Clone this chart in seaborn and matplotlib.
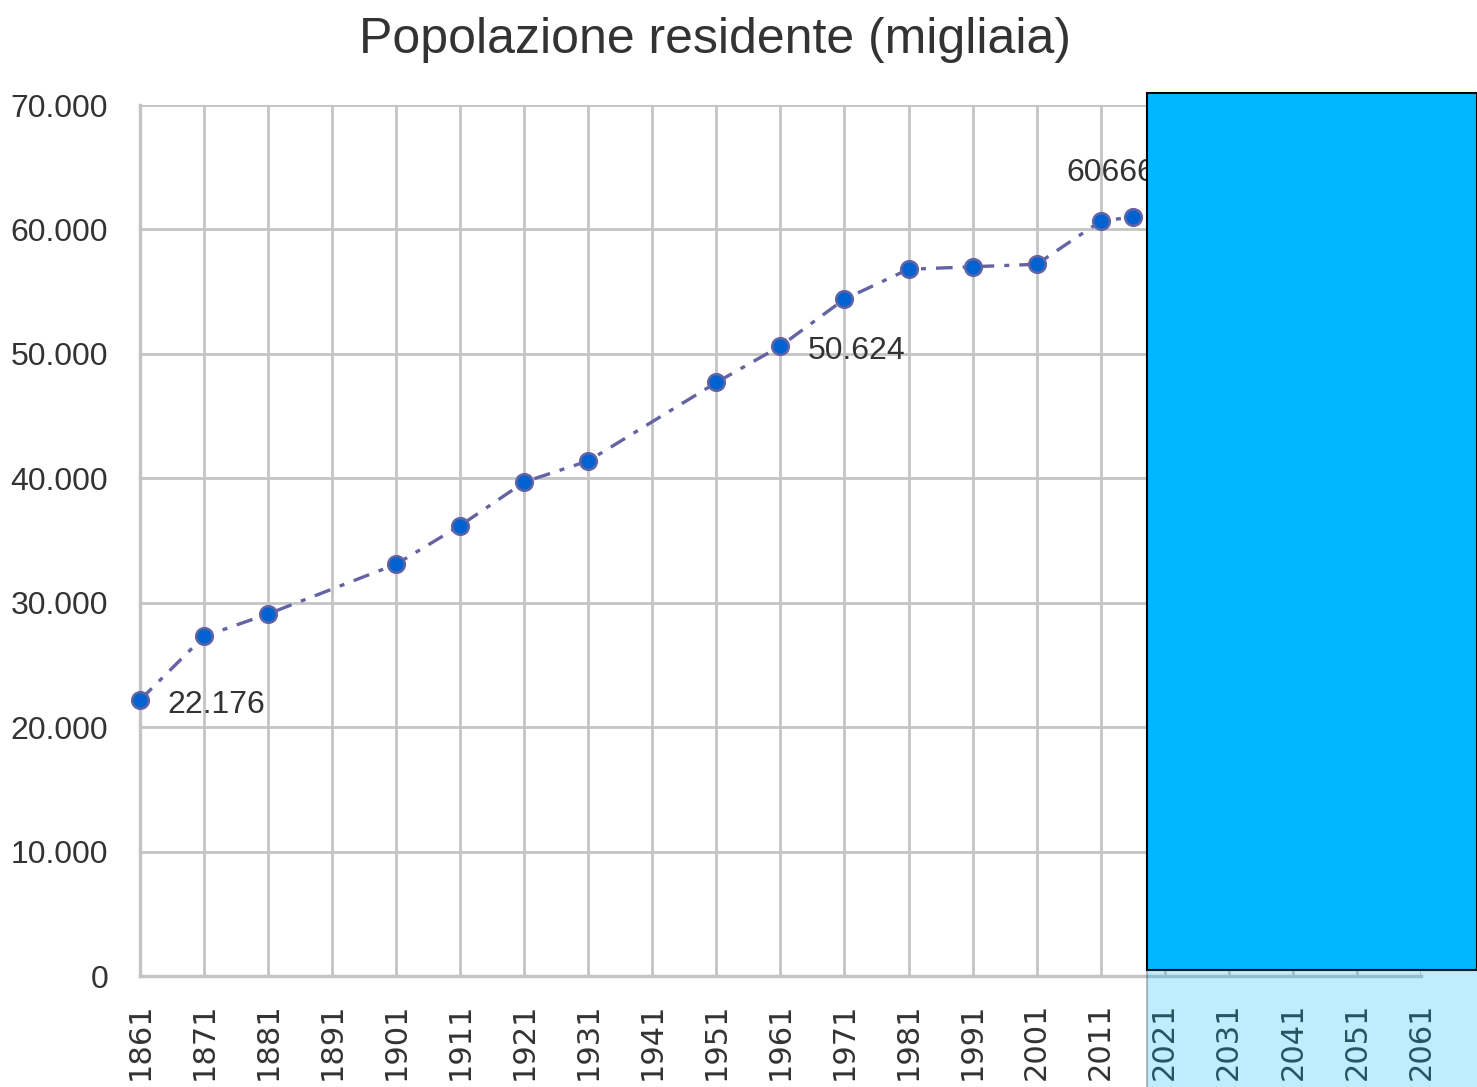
import numpy as np
import pandas as pd
import seaborn as sns
import matplotlib.pyplot as plt
from matplotlib.patches import Rectangle
from matplotlib.ticker import FuncFormatter

# census years and resident population (thousands)
anni = [1861, 1871, 1881, 1901, 1911, 1921, 1931, 1951, 1961, 1971, 1981, 1991, 2001, 2011, 2016]
popolazione = [22176, 27300, 29100, 33100, 36200, 39700, 41400, 47700, 50624, 54400, 56800, 57000, 57200, 60666, 61000]
tick_anni = list(range(1861, 2062, 10))
etichette = {1861: "22.176", 1961: "50.624", 2011: "60666"}

dta = pd.DataFrame({"anno": anni, "pop": popolazione})

sns.set_theme(style="white")
plt.rcParams["font.family"] = ["Liberation Sans", "DejaVu Sans"]

fig = plt.figure(figsize=(14.77, 10.87), dpi=100)
ax = fig.add_axes([0.0948, 0.1021, 0.962 - 0.0948, 0.9034 - 0.1021])

sns.lineplot(x="anno", y="pop", data=dta, ax=ax, color="#6464A4", lw=2.4,
             linestyle=(0, (5, 3, 1.5, 3)), marker="o", markersize=12,
             markerfacecolor="#0062D0", markeredgecolor="#6464A4", markeredgewidth=1.8,
             clip_on=False, zorder=3)

ax.set_xlim(1861, 2061)
ax.set_ylim(0, 70000)
ax.set_xticks(tick_anni)
ax.set_xticklabels([str(a) for a in tick_anni], rotation=90)
ax.set_yticks(range(0, 70001, 10000))
ax.yaxis.set_major_formatter(FuncFormatter(lambda v, p: f"{v:,.0f}".replace(",", ".")))
ax.tick_params(axis="y", labelsize=23, labelcolor="#333333", pad=23, length=0)
ax.tick_params(axis="x", labelsize=22, labelcolor="#333333", pad=19, length=0)
for lbl in ax.get_xticklabels():
    lbl.set_fontfamily("DejaVu Sans")
ax.grid(True, color="#C4C4C4", lw=2)
for s in ["top", "right"]:
    ax.spines[s].set_visible(False)
for s in ["left", "bottom"]:
    ax.spines[s].set_color("#C4C4C4")
    ax.spines[s].set_linewidth(2.5)
ax.set_xlabel("")
ax.set_ylabel("")

for a, testo in etichette.items():
    v = popolazione[anni.index(a)]
    if a == 2011:
        ax.text(a - 5.3, v + 3900, testo, fontsize=23, color="#333333", va="center")
    else:
        ax.text(a + 4.3, v - 400, testo, fontsize=23, color="#333333", va="center")

fig.suptitle("Popolazione residente (migliaia)", x=0.484, y=0.984, fontsize=36,
             color="#333333")

# blue overlays on the right side
fig.patches.append(Rectangle((1147 / 1477, 117 / 1087), 1 - 1147 / 1477, (970 - 93) / 1087,
                             transform=fig.transFigure, facecolor="#00B8FF",
                             edgecolor="black", lw=1.5, zorder=5))
fig.patches.append(Rectangle((1147 / 1477, -0.01), 1, 117 / 1087 + 0.01,
                             transform=fig.transFigure, facecolor="#00B8FF", alpha=0.25,
                             edgecolor="black", lw=1.5, zorder=5))

fig.savefig("out.png", dpi=100)
